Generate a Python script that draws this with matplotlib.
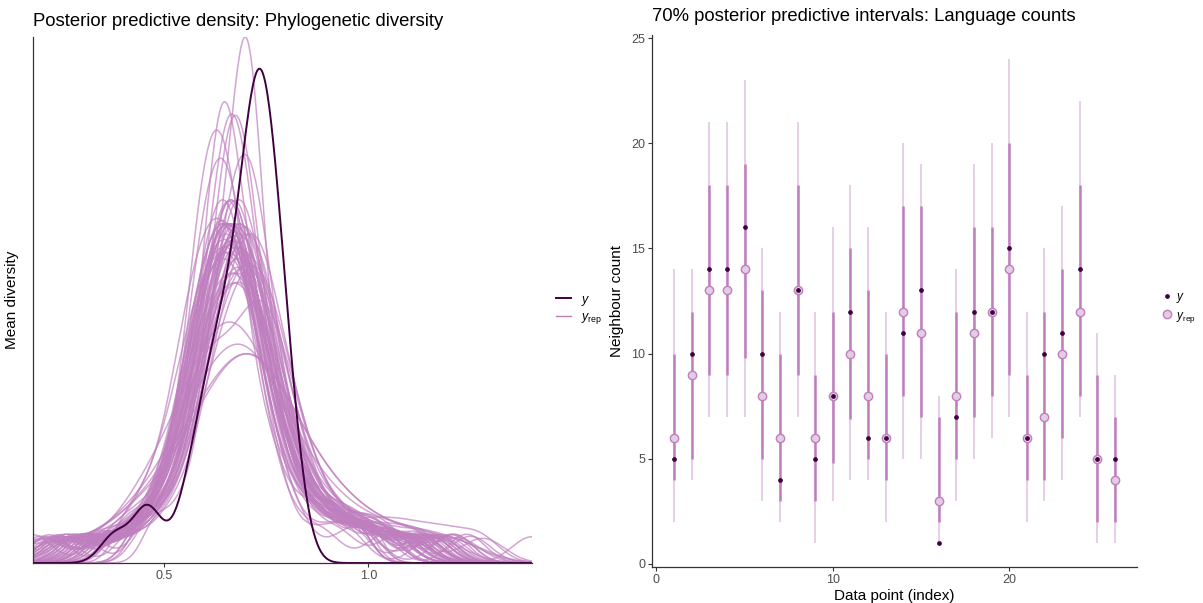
import numpy as np
import matplotlib
matplotlib.use("Agg")
import matplotlib.pyplot as plt
from matplotlib.lines import Line2D

plt.rcParams['font.family'] = ['Liberation Sans', 'DejaVu Sans']
plt.rcParams['mathtext.fontset'] = 'custom'
plt.rcParams['mathtext.rm'] = 'Liberation Sans'
plt.rcParams['mathtext.it'] = 'Liberation Sans:italic'

# bayesplot purple scheme
LIGHT = "#e5cce5"
LIGHT_HI = "#bf7fbf"
DARK_HI = "#400040"

# ---- left panel: observed mean diversity (y) ----
y_div = [0.38, 0.455, 0.465, 0.55, 0.575, 0.59, 0.605, 0.615, 0.625, 0.635,
         0.645, 0.655, 0.66, 0.67, 0.68, 0.69, 0.695, 0.70, 0.705, 0.71,
         0.715, 0.72, 0.725, 0.73, 0.73, 0.735, 0.74, 0.74, 0.745, 0.75,
         0.755, 0.76, 0.765, 0.77, 0.775, 0.78, 0.79, 0.80, 0.81, 0.82]

# replicated draws (yrep), one row per draw, in hundredths
yrep_div = [
    [22, 41, 45, 50, 52, 54, 55, 56, 57, 58, 59, 60, 61, 62, 63, 63, 64, 65, 66, 67, 68, 69, 70, 71, 72, 74, 76, 81, 89, 104],
    [35, 44, 47, 51, 53, 55, 56, 57, 58, 59, 60, 61, 63, 64, 64, 65, 66, 67, 68, 69, 70, 71, 72, 73, 75, 77, 82, 91, 98, 115],
    [18, 36, 48, 52, 54, 56, 57, 58, 59, 60, 61, 62, 63, 64, 65, 65, 66, 67, 68, 69, 70, 71, 72, 74, 76, 78, 83, 95, 103, 113],
    [27, 40, 44, 48, 51, 53, 55, 57, 58, 60, 61, 63, 64, 65, 66, 67, 68, 69, 71, 72, 74, 75, 77, 79, 81, 84, 88, 93, 100, 109],
    [29, 47, 49, 53, 55, 57, 58, 59, 60, 61, 62, 63, 64, 65, 66, 66, 67, 68, 69, 70, 71, 72, 73, 75, 77, 79, 84, 89, 97, 106],
    [38, 48, 50, 54, 56, 58, 59, 60, 61, 61, 62, 63, 64, 65, 66, 66, 67, 68, 69, 71, 72, 73, 74, 76, 78, 80, 85, 93, 107, 121],
    [24, 43, 49, 54, 56, 58, 59, 60, 61, 62, 63, 64, 65, 66, 67, 67, 68, 69, 70, 71, 72, 73, 74, 76, 78, 80, 85, 90, 96, 113],
    [31, 46, 51, 55, 57, 59, 60, 61, 62, 63, 64, 65, 66, 66, 67, 67, 68, 69, 70, 71, 72, 73, 75, 76, 79, 81, 85, 92, 99, 110],
    [40, 46, 51, 54, 56, 57, 58, 59, 60, 61, 61, 62, 63, 64, 64, 65, 66, 66, 67, 68, 69, 70, 71, 72, 74, 77, 80, 84, 90, 99],
    [26, 39, 47, 52, 54, 56, 57, 58, 59, 60, 61, 62, 63, 64, 65, 65, 66, 67, 68, 69, 70, 71, 72, 74, 76, 78, 83, 88, 95, 116],
    [33, 45, 49, 53, 55, 57, 58, 59, 60, 61, 62, 63, 64, 64, 65, 65, 66, 67, 68, 69, 70, 71, 73, 74, 77, 79, 84, 91, 99, 120],
    [44, 50, 54, 57, 59, 60, 61, 62, 62, 63, 64, 64, 65, 65, 66, 66, 67, 67, 68, 69, 71, 72, 73, 74, 75, 77, 80, 84, 89, 97],
    [20, 36, 46, 51, 54, 56, 57, 58, 59, 60, 61, 62, 63, 64, 65, 66, 67, 68, 68, 69, 70, 71, 73, 75, 77, 80, 85, 92, 101, 113],
    [28, 42, 48, 53, 55, 57, 58, 59, 60, 61, 62, 63, 64, 65, 66, 66, 67, 68, 69, 70, 71, 72, 73, 75, 77, 79, 84, 89, 98, 108],
    [34, 44, 50, 54, 56, 58, 59, 60, 61, 62, 63, 64, 65, 66, 66, 67, 67, 68, 69, 70, 71, 72, 74, 75, 78, 81, 86, 93, 102, 124],
    [45, 51, 55, 57, 59, 60, 61, 62, 63, 64, 64, 65, 66, 66, 67, 67, 68, 69, 69, 70, 71, 72, 73, 74, 75, 77, 80, 84, 89, 97],
    [23, 37, 45, 50, 53, 56, 57, 58, 59, 60, 61, 63, 64, 65, 66, 67, 68, 69, 70, 71, 72, 73, 74, 76, 78, 80, 85, 90, 96, 105],
    [30, 43, 49, 54, 56, 58, 59, 60, 61, 62, 63, 64, 65, 66, 67, 67, 68, 69, 70, 71, 72, 73, 74, 76, 78, 80, 85, 91, 99, 111],
    [25, 40, 47, 52, 55, 57, 58, 60, 61, 62, 63, 64, 65, 66, 67, 68, 68, 69, 70, 71, 72, 74, 75, 77, 79, 82, 86, 92, 103, 140],
    [36, 46, 51, 55, 57, 59, 60, 61, 62, 63, 64, 65, 66, 66, 67, 67, 68, 69, 70, 71, 72, 73, 75, 76, 79, 81, 86, 94, 100, 115],
    [44, 51, 55, 58, 60, 61, 62, 63, 64, 65, 65, 66, 67, 67, 68, 68, 69, 70, 70, 71, 72, 73, 74, 75, 77, 79, 82, 86, 91, 98],
    [21, 38, 44, 49, 54, 56, 58, 59, 60, 61, 62, 63, 65, 66, 67, 68, 69, 70, 71, 72, 73, 74, 76, 77, 80, 82, 87, 93, 98, 109],
    [32, 44, 50, 55, 57, 59, 60, 61, 62, 63, 64, 65, 66, 67, 68, 68, 69, 70, 71, 72, 73, 74, 75, 77, 79, 81, 86, 92, 100, 114],
    [27, 41, 48, 53, 56, 58, 59, 61, 62, 63, 64, 65, 66, 67, 68, 69, 69, 70, 71, 72, 74, 75, 76, 78, 80, 83, 88, 95, 105, 119],
    [37, 47, 52, 56, 58, 60, 61, 62, 63, 64, 65, 66, 67, 67, 68, 68, 69, 70, 71, 72, 73, 74, 76, 78, 80, 82, 87, 91, 97, 106],
    [24, 39, 46, 51, 55, 57, 59, 60, 61, 62, 63, 65, 66, 67, 68, 69, 70, 71, 72, 73, 74, 75, 77, 79, 81, 84, 89, 96, 104, 112],
    [33, 45, 51, 56, 58, 60, 61, 62, 63, 64, 65, 66, 67, 68, 69, 69, 70, 71, 72, 73, 74, 75, 76, 78, 80, 82, 87, 93, 101, 117],
    [29, 42, 49, 54, 57, 59, 60, 62, 63, 64, 65, 66, 67, 68, 69, 70, 70, 71, 72, 73, 75, 76, 77, 79, 81, 84, 88, 94, 99, 110],
    [39, 48, 53, 57, 59, 61, 62, 63, 64, 65, 66, 67, 68, 68, 69, 69, 70, 71, 72, 73, 74, 75, 77, 78, 81, 83, 88, 95, 106, 121],
    [48, 54, 58, 61, 62, 63, 64, 64, 65, 67, 68, 68, 69, 69, 70, 70, 70, 71, 71, 72, 72, 73, 74, 75, 77, 79, 82, 87, 92, 100],
    [31, 44, 50, 56, 58, 60, 62, 63, 64, 65, 66, 67, 68, 69, 70, 70, 71, 72, 73, 74, 75, 76, 77, 79, 81, 83, 88, 94, 102, 113],
    [26, 40, 48, 54, 57, 59, 61, 62, 63, 64, 65, 66, 67, 69, 70, 71, 72, 72, 73, 74, 75, 76, 78, 80, 82, 85, 90, 97, 103, 116],
    [35, 47, 53, 57, 59, 61, 62, 63, 64, 65, 66, 67, 68, 69, 70, 71, 72, 73, 74, 75, 76, 77, 78, 80, 82, 84, 89, 95, 103, 118],
    [28, 43, 50, 55, 58, 60, 62, 63, 64, 65, 66, 68, 69, 70, 71, 71, 72, 73, 74, 75, 76, 78, 79, 81, 83, 86, 91, 96, 108, 122],
    [37, 48, 54, 58, 60, 62, 63, 64, 65, 66, 67, 68, 69, 70, 71, 72, 72, 73, 74, 75, 76, 77, 79, 81, 83, 85, 90, 98, 107, 125],
    [30, 44, 52, 56, 59, 61, 63, 64, 65, 66, 67, 68, 70, 71, 72, 73, 73, 74, 75, 76, 77, 79, 80, 82, 84, 87, 92, 99, 110, 128],
    [40, 50, 55, 59, 61, 63, 64, 65, 66, 67, 68, 69, 70, 71, 72, 73, 73, 74, 75, 76, 77, 78, 80, 82, 84, 86, 91, 97, 104, 115],
    [19, 34, 42, 47, 51, 54, 57, 59, 61, 63, 64, 66, 67, 69, 70, 71, 72, 74, 75, 77, 78, 80, 82, 85, 88, 91, 96, 102, 111, 121],
    [23, 37, 43, 48, 51, 54, 56, 58, 60, 61, 63, 64, 66, 67, 68, 69, 71, 72, 73, 75, 76, 78, 80, 83, 86, 89, 94, 100, 108, 117],
    [25, 38, 44, 49, 52, 55, 57, 59, 61, 63, 64, 66, 67, 69, 70, 71, 73, 74, 75, 77, 78, 80, 82, 85, 88, 91, 96, 102, 111, 122],
    [28, 44, 50, 55, 57, 58, 59, 60, 61, 62, 63, 64, 69, 70, 71, 72, 73, 73, 74, 75, 76, 77, 78, 80, 82, 84, 88, 93, 100, 109],
    [24, 35, 44, 49, 55, 57, 59, 61, 62, 63, 64, 65, 66, 67, 68, 69, 70, 71, 72, 73, 74, 75, 77, 79, 81, 83, 87, 92, 99, 105],
    [32, 45, 51, 55, 57, 58, 59, 60, 61, 62, 63, 64, 65, 66, 66, 67, 68, 69, 70, 71, 72, 74, 75, 78, 88, 96, 103, 110, 118, 127],
    [21, 37, 46, 51, 54, 56, 57, 58, 59, 60, 61, 62, 63, 64, 65, 66, 67, 68, 69, 70, 71, 72, 74, 75, 78, 80, 84, 89, 96, 107],
    [34, 46, 52, 56, 58, 60, 61, 62, 63, 64, 65, 66, 67, 68, 69, 70, 70, 71, 72, 73, 74, 75, 77, 79, 81, 83, 88, 94, 100, 111],
    [29, 42, 48, 53, 56, 58, 59, 60, 61, 62, 63, 64, 65, 66, 67, 68, 69, 69, 70, 71, 72, 74, 75, 77, 79, 81, 86, 92, 99, 112],
    [38, 46, 51, 54, 56, 58, 59, 60, 61, 62, 63, 64, 65, 65, 66, 67, 68, 69, 70, 71, 72, 73, 74, 76, 78, 80, 85, 90, 97, 103],
    [22, 38, 47, 53, 56, 58, 60, 61, 62, 63, 64, 65, 66, 67, 68, 68, 69, 70, 71, 72, 73, 75, 76, 78, 80, 82, 87, 93, 101, 115],
    [41, 48, 52, 55, 56, 57, 58, 59, 60, 60, 61, 62, 62, 63, 64, 64, 65, 66, 67, 67, 68, 69, 70, 72, 74, 76, 79, 84, 89, 97],
    [33, 45, 51, 56, 58, 60, 61, 62, 63, 64, 65, 66, 67, 68, 69, 70, 71, 72, 73, 74, 75, 76, 78, 80, 82, 84, 89, 95, 103, 117],
    [27, 42, 49, 53, 55, 57, 58, 59, 60, 61, 62, 63, 64, 65, 66, 67, 68, 69, 70, 71, 72, 73, 74, 76, 78, 80, 85, 90, 96, 106],
    [24, 39, 47, 52, 55, 57, 58, 59, 60, 61, 62, 63, 64, 65, 66, 67, 68, 69, 70, 71, 71, 72, 74, 76, 78, 80, 85, 91, 98, 110],
    [36, 47, 53, 57, 59, 61, 62, 63, 64, 65, 66, 67, 68, 68, 69, 70, 71, 72, 73, 74, 75, 76, 77, 79, 81, 84, 89, 96, 104, 113],
    [31, 43, 49, 54, 56, 58, 60, 61, 62, 63, 64, 65, 66, 67, 67, 68, 69, 70, 71, 72, 73, 74, 76, 78, 80, 82, 87, 92, 99, 109],
    [20, 37, 46, 51, 54, 57, 58, 59, 60, 61, 62, 64, 65, 66, 67, 68, 69, 70, 71, 72, 73, 74, 75, 77, 79, 81, 86, 92, 100, 113],
    [35, 45, 50, 55, 58, 59, 61, 62, 63, 64, 65, 66, 67, 67, 68, 69, 70, 71, 72, 73, 74, 75, 76, 78, 81, 83, 88, 93, 102, 117],
    [26, 42, 48, 52, 54, 56, 57, 58, 59, 60, 61, 62, 63, 64, 65, 66, 67, 68, 69, 70, 71, 72, 73, 75, 77, 79, 84, 90, 98, 108],
    [46, 52, 56, 59, 61, 62, 63, 64, 65, 66, 67, 68, 68, 69, 70, 70, 71, 72, 72, 73, 74, 75, 76, 77, 79, 81, 84, 88, 94, 104],
    [30, 42, 48, 53, 55, 57, 58, 59, 60, 61, 62, 63, 64, 65, 66, 66, 67, 68, 69, 70, 71, 72, 73, 75, 77, 80, 84, 90, 96, 106],
    [25, 41, 47, 52, 55, 57, 59, 60, 61, 62, 63, 64, 65, 66, 67, 68, 68, 69, 70, 71, 72, 73, 75, 77, 79, 81, 86, 91, 97, 108],
]

# ---- right panel: language counts ----
idx = list(range(1, 27))
y_count = [5, 10, 14, 14, 16, 10, 4, 13, 5, 8, 12, 6, 6,
           11, 13, 1, 7, 12, 12, 15, 6, 10, 11, 14, 5, 5]
med = [6, 9, 13, 13, 14, 8, 6, 13, 6, 8, 10, 8, 6,
       12, 11, 3, 8, 11, 12, 14, 6, 7, 10, 12, 5, 4]
inner_lo = [4, 5, 9, 9, 9.8, 5, 3, 9, 3, 4.8, 6.9, 5, 4,
            8, 7, 2, 5, 7, 8, 9, 4, 4, 6, 8, 2, 2]
inner_hi = [10, 12, 18, 18, 19, 13, 10, 18, 9, 12, 15, 13, 10,
            17, 17, 7, 12, 16, 16, 20, 9, 12, 14, 18, 9, 7]
outer_lo = [2, 4, 7, 7, 7, 3, 2, 7, 1, 3, 4, 4, 2,
            5, 5, 1, 3, 5, 6, 7, 2, 3, 4, 7, 1, 1]
outer_hi = [14, 14, 21, 21, 23, 15, 12, 21, 12, 16, 18, 16, 12,
            20, 19, 8, 14, 19, 20, 24, 12, 15, 17, 22, 11, 9]


def nrd0(x):
    sd = np.std(x, ddof=1)
    q75, q25 = np.percentile(x, [75, 25])
    lo = min(sd, (q75 - q25) / 1.34)
    return 0.9 * lo * len(x) ** -0.2


def density(x, grid):
    bw = nrd0(x)
    d = (grid[:, None] - x[None, :]) / bw
    return np.exp(-0.5 * d ** 2).sum(axis=1) / (len(x) * bw * np.sqrt(2 * np.pi))


def style_axes(ax):
    for s in ['top', 'right']:
        ax.spines[s].set_visible(False)
    for s in ['left', 'bottom']:
        ax.spines[s].set_color('#333333')
        ax.spines[s].set_linewidth(0.9)
    ax.tick_params(colors='#333333', labelcolor='#4d4d4d', labelsize=9, length=3, width=0.8, pad=2)


def dens_overlay(ax):
    y = np.array(y_div)
    reps = [np.array(r) / 100 for r in yrep_div]
    allv = np.concatenate([y] + reps)
    grid = np.linspace(allv.min(), allv.max(), 512)
    top = 0
    for r in reps:
        d = density(r, grid)
        top = max(top, d.max())
        ax.plot(grid, d, color=LIGHT_HI, lw=1.1, alpha=0.7)
    dy = density(y, grid)
    top = max(top, dy.max())
    ax.plot(grid, dy, color=DARK_HI, lw=1.4)
    ax.set_xlim(grid[0], grid[-1])
    ax.set_ylim(0, top)
    ax.set_xticks([0.5, 1.0])
    ax.set_xticklabels(['0.5', '1.0'])
    ax.set_yticks([])
    style_axes(ax)
    ax.set_ylabel('Mean diversity', fontsize=11, labelpad=10)
    ax.set_title('Posterior predictive density: Phylogenetic diversity', loc='left', fontsize=13.3, pad=8)


def intervals(ax):
    ax.vlines(idx, outer_lo, outer_hi, color=LIGHT, lw=1.3, zorder=1)
    ax.vlines(idx, inner_lo, inner_hi, color=LIGHT_HI, lw=1.8, zorder=2)
    ax.plot(idx, med, 'o', ms=6, mfc=LIGHT, mec=LIGHT_HI, mew=1.0, ls='none', zorder=3)
    ax.plot(idx, y_count, 'o', ms=2.4, color=DARK_HI, ls='none', zorder=4)
    ax.set_xlim(1 - 0.05 * 25, 26 + 0.05 * 25)
    ax.set_ylim(1 - 0.05 * 23, 24 + 0.05 * 23)
    ax.set_xticks([0, 10, 20])
    ax.set_yticks([0, 5, 10, 15, 20, 25])
    style_axes(ax)
    ax.set_xlabel('Data point (index)', fontsize=11, labelpad=2)
    ax.set_ylabel('Neighbour count', fontsize=11, labelpad=5)
    ax.set_title('70% posterior predictive intervals: Language counts', loc='left', fontsize=13.3, pad=10)


def main():
    fig = plt.figure(figsize=(12.03, 6.03), dpi=100)
    ax1 = fig.add_axes([33 / 1203, 1 - 563 / 603, 499 / 1203, 526 / 603])
    ax2 = fig.add_axes([652 / 1203, 1 - 567 / 603, 485 / 1203, 532 / 603])
    dens_overlay(ax1)
    intervals(ax2)

    h1 = [Line2D([], [], color=DARK_HI, lw=1.4), Line2D([], [], color=LIGHT_HI, lw=1.0)]
    fig.legend(h1, [r'$y$', r'$y_{\mathrm{rep}}$'], loc='center left', bbox_to_anchor=(545 / 1203, 1 - 310 / 603),
               frameon=False, fontsize=9, handlelength=1.2, handletextpad=0.8, labelspacing=0.3)
    h2 = [Line2D([], [], marker='o', ms=2.4, color=DARK_HI, ls='none'),
          Line2D([], [], marker='o', ms=6, mfc=LIGHT, mec=LIGHT_HI, ls='none')]
    fig.legend(h2, [r'$y$', r'$y_{\mathrm{rep}}$'], loc='center left', bbox_to_anchor=(1152 / 1203, 1 - 308 / 603),
               frameon=False, fontsize=8.5, handlelength=0.8, handletextpad=0.3, labelspacing=0.35)

    fig.savefig('out.png', dpi=100)


main()
